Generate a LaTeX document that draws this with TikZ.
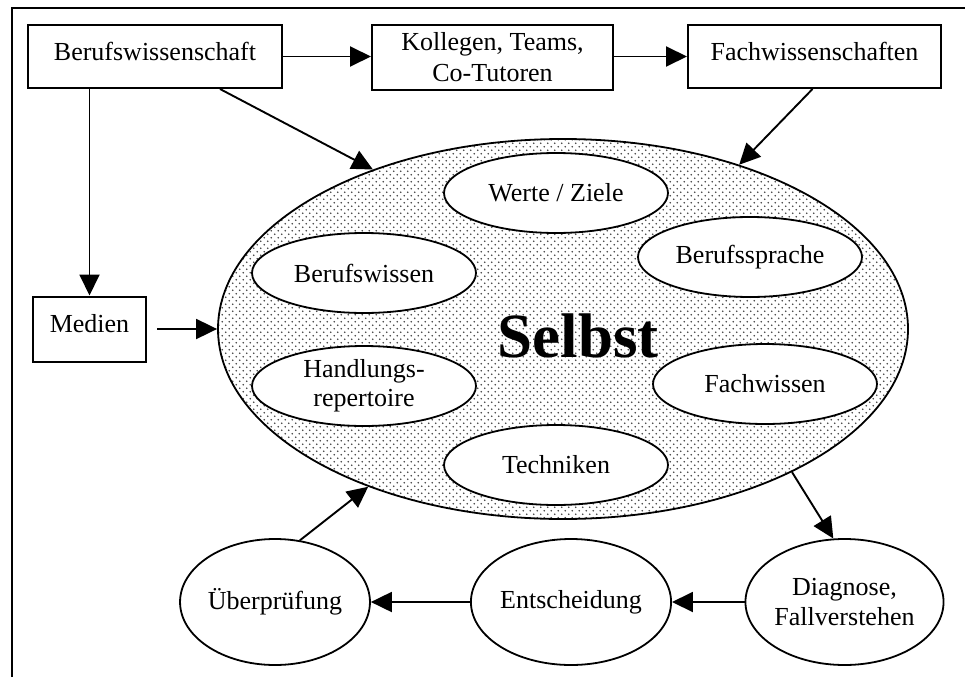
\documentclass[tikz,border=0pt]{standalone}
\usepackage{fontspec}
\setmainfont{Liberation Serif}
\usetikzlibrary{shapes.geometric,arrows.meta,patterns}
\pgfdeclarepatternformonly{selbstdots}{\pgfqpoint{-1pt}{-1pt}}{\pgfqpoint{8pt}{8pt}}{\pgfqpoint{7pt}{7pt}}{%
  \pgfpathcircle{\pgfqpoint{1.75pt}{1.75pt}}{0.95pt}%
  \pgfpathcircle{\pgfqpoint{5.25pt}{5.25pt}}{0.95pt}%
  \pgfusepath{fill}}
\begin{document}
\begin{tikzpicture}[x=1pt,y=-1pt,
 txt/.style={font=\fontsize{26}{30}\selectfont},
 box/.style={draw, line width=2pt, inner sep=0pt, txt},
 onebox/.style={box, text depth=11pt},
 inell/.style={ellipse, draw, line width=1.8pt, fill=white, minimum width=224pt, minimum height=80pt, inner sep=0pt, txt, align=center},
 ring/.style={ellipse, draw, line width=1.8pt, minimum height=126pt, inner sep=0pt, txt, align=center},
 arr/.style={line width=1.9pt, -{Triangle[length=21pt,width=20pt]}}]
\useasboundingbox (0,0) rectangle (965,677);
\draw[line width=2pt] (12,677) -- (12,8) -- (965,8);
% top boxes
\node[onebox, minimum width=254pt, minimum height=63pt] (beruf) at (155,56.5) {Berufswissenschaft};
\node[box, minimum width=241pt, minimum height=65pt, align=center, font=\fontsize{26}{31}\selectfont] (koll) at (492.5,57.5) {Kollegen, Teams,\\Co-Tutoren};
\node[onebox, minimum width=253pt, minimum height=63pt] (fach) at (814.5,56.5) {Fachwissenschaften};
\node[onebox, minimum width=113pt, minimum height=65pt] (medien) at (89.5,329) {Medien};
% big ellipse
\node[ellipse, draw, line width=1.8pt, pattern=selbstdots, pattern color=black!75, minimum width=690pt, minimum height=380pt, inner sep=0pt] (big) at (563,329) {};
\node[inell] (werte) at (556,193) {Werte / Ziele};
\node[inell] (bwissen) at (364,273) {Berufswissen};
\node[inell] (sprache) at (750,257) {Berufssprache};
\node[inell, font=\fontsize{26}{29}\selectfont] (handl) at (364,386) {Handlungs-\\repertoire};
\node[inell] (fwissen) at (765,384) {Fachwissen};
\node[inell] (tech) at (556,465) {Techniken};
\node[font=\fontsize{63}{70}\selectfont\bfseries, anchor=base, inner sep=0pt] (selbst) at (578,357) {Selbst};
% bottom cycle
\node[ring, minimum width=174pt] (ueber) at (275,602) {Überprüfung};
\node[ring, minimum width=194pt] (ents) at (571,602) {Entscheidung};
\node[ring, minimum width=191pt] (diag) at (844.5,602) {Diagnose,\\Fallverstehen};
% connectors
\draw[arr] (beruf.east) -- (koll.west |- beruf.east);
\draw[arr] (koll.east |- fach.west) -- (fach.west);
\draw[arr] (medien.north |- beruf.south) -- (medien.north);
\draw[arr] ([xshift=65pt]beruf.south) -- (big.140);
\draw[arr] ([xshift=-2pt]fach.south) -- (big.43);
\draw[arr] ([xshift=10pt]medien.east) -- (medien.east -| big.west);
\draw[arr] (ueber.68) -- (big.219);
\draw[arr] (big.-32) -- (diag.100);
\draw[arr] (diag.west) -- (ents.east);
\draw[arr] (ents.west) -- (ueber.east);
\end{tikzpicture}
\end{document}
